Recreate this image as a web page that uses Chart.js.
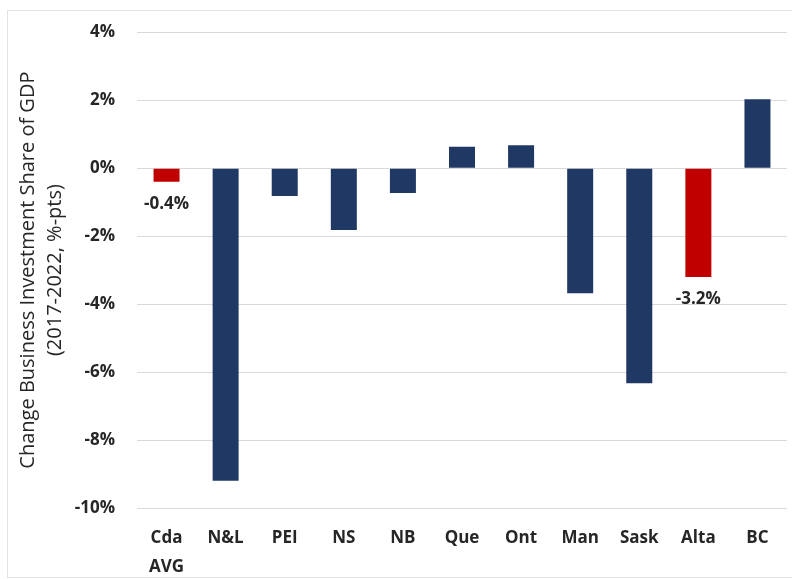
<!DOCTYPE html>
<html>
<head>
<meta charset="utf-8">
<script src="https://cdn.jsdelivr.net/npm/chart.js@4"></script>
<style>
    html, body { margin: 0; padding: 0; background: #fff; }
    #wrap { position: relative; width: 792px; height: 579px; overflow: hidden; }
    #chart { position: absolute; left: 0; top: 0; }
    #frame { position: absolute; left: 7px; top: 10px; width: 800px; height: 566px; border: 1px solid #e3e3e3; pointer-events: none; }
</style>
</head>
<body>
<div id="wrap">
    <canvas id="chart" width="792" height="579"></canvas>
    <div id="frame"></div>
</div>
<script>
const provinces = [['Cda', 'AVG'], 'N&L', 'PEI', 'NS', 'NB', 'Que', 'Ont', 'Man', 'Sask', 'Alta', 'BC'];
const changePts = [-0.4, -9.2, -0.82, -1.82, -0.73, 0.63, 0.67, -3.68, -6.33, -3.2, 2.03];
const highlighted = [true, false, false, false, false, false, false, false, false, true, false];
const yTicks = [4, 2, 0, -2, -4, -6, -8, -10];
const yTitle = ['Change Business Investment Share of GDP', '(2017-2022, %-pts)'];

const NAVY = '#203864';
const RED = '#C00000';
const FONT = '"Open Sans", Lato, sans-serif';

// value labels under the highlighted bars
const barLabels = {
    id: 'barLabels',
    afterDatasetsDraw(chart) {
        const c = chart.ctx;
        const meta = chart.getDatasetMeta(0);
        c.save();
        c.font = `bold 17px ${FONT}`;
        c.fillStyle = '#262626';
        c.textAlign = 'center';
        c.textBaseline = 'middle';
        meta.data.forEach((bar, i) => {
            if (!highlighted[i]) return;
            const v = changePts[i];
            c.fillText(`${v.toFixed(1)}%`, bar.x, bar.y + 22);
        });
        c.restore();
    }
};

const ctx = document.querySelector('#chart').getContext('2d');
const chart = new Chart(ctx, {
    type: 'bar',
    data: {
        labels: provinces,
        datasets: [{
            data: changePts,
            backgroundColor: changePts.map((v, i) => highlighted[i] ? RED : NAVY),
            categoryPercentage: 1,
            barPercentage: 0.44
        }]
    },
    options: {
        responsive: false,
        animation: false,
        layout: { padding: { top: 22, right: 5, left: 15, bottom: 0 } },
        plugins: {
            legend: { display: false },
            tooltip: { enabled: false }
        },
        scales: {
            x: {
                grid: { display: false, drawTicks: false },
                border: { display: false },
                ticks: {
                    color: '#262626',
                    font: { family: FONT, size: 17, weight: 'bold', lineHeight: 1.7 },
                    padding: 16,
                    maxRotation: 0,
                    autoSkip: false
                },
                afterFit: (scale) => { scale.height = 71; }
            },
            y: {
                min: -10,
                max: 4,
                afterBuildTicks: (scale) => {
                    scale.ticks = yTicks.map(v => ({ value: v }));
                },
                grid: { color: '#d9d9d9', lineWidth: 1, drawTicks: false },
                border: { display: false },
                ticks: {
                    color: '#262626',
                    font: { family: FONT, size: 17, weight: 'bold' },
                    padding: 22,
                    callback: (v) => `${v}%`
                },
                title: {
                    display: true,
                    text: yTitle,
                    color: '#262626',
                    font: { family: FONT, size: 20, lineHeight: 1.35 },
                    padding: { top: 0, bottom: 0 }
                },
                afterFit: (scale) => { scale.width = 122; }
            }
        }
    },
    plugins: [barLabels]
});
</script>
</body>
</html>
